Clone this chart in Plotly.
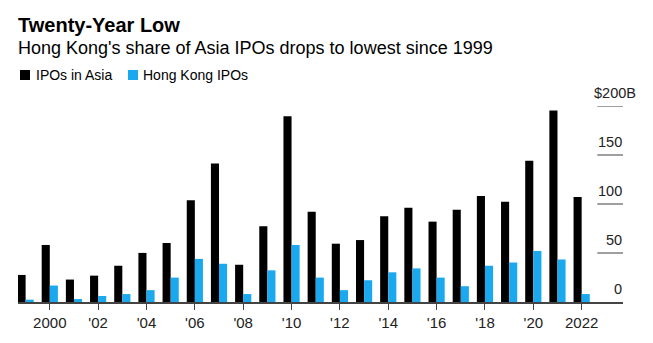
import plotly.graph_objects as go

years = list(range(1999, 2023))
asia = [27.6, 58.2, 22.9, 26.9, 37.0, 50.1, 60.2, 103.9, 141.2, 38.0, 77.3, 189.6,
        92.1, 59.5, 63.2, 87.4, 96.1, 82.0, 94.1, 108.2, 102.2, 144.2, 195.3, 107.2]
hk = [2.4, 16.8, 3.0, 6.1, 8.1, 12.1, 24.9, 44.0, 39.0, 8.1, 32.3, 58.2,
      24.9, 12.1, 22.2, 30.3, 34.3, 24.9, 16.1, 37.0, 40.3, 52.1, 43.4, 8.1]
xtick_vals = [2000, 2002, 2004, 2006, 2008, 2010, 2012, 2014, 2016, 2018, 2020, 2022]
xtick_text = ["2000", "'02", "'04", "'06", "'08", "'10", "'12", "'14", "'16", "'18", "'20", "2022"]
ytick_vals = [0, 50, 100, 150, 200]
ytick_text = ["0", "50", "100", "150", "200"]
series_names = ["IPOs in Asia", "Hong Kong IPOs"]

FONT = "Liberation Sans, Arial, sans-serif"
BLACK = "#000000"
BLUE = "#1aa9ef"

fig = go.Figure()
fig.add_trace(go.Bar(x=years, y=asia, name=series_names[0], marker_color=BLACK,
                     marker_line_width=0, showlegend=False))
fig.add_trace(go.Bar(x=years, y=hk, name=series_names[1], marker_color=BLUE,
                     marker_line_width=0, showlegend=False))

# short gridlines at right + y labels
for v, t in zip(ytick_vals, ytick_text):
    if v != 0:
        fig.add_shape(type="line", xref="x domain", yref="y", x0=0.9575, x1=1.0,
                      y0=v, y1=v, line=dict(color="#6b6b6b", width=1.3))
    label = t if v != 200 else "$200B"
    fig.add_annotation(xref="x domain", yref="y", x=1.0, y=v, text=label,
                       showarrow=False, xanchor="right", yanchor="bottom",
                       xshift=1 if v != 200 else 15, yshift=3,
                       font=dict(family=FONT, size=14.5, color="#222222"))

# title / subtitle
fig.add_annotation(xref="paper", yref="paper", x=0, y=1, xanchor="left", yanchor="top",
                   xshift=-2, yshift=94, text="<b>Twenty-Year Low</b>",
                   showarrow=False, font=dict(family=FONT, size=20, color="#000000"))
fig.add_annotation(xref="paper", yref="paper", x=0, y=1, xanchor="left", yanchor="top",
                   xshift=-2, yshift=70, text="Hong Kong's share of Asia IPOs drops to lowest since 1999",
                   showarrow=False, font=dict(family=FONT, size=18, color="#000000"))

# custom legend (pixel offsets from the plot area's top-left corner)
legend_items = [(series_names[0], BLACK, 2, 17), (series_names[1], BLUE, 110, 123.7)]
for name, col, sq_x, tx_x in legend_items:
    fig.add_shape(type="rect", xref="paper", yref="paper",
                  xsizemode="pixel", ysizemode="pixel", xanchor=0, yanchor=1,
                  x0=sq_x, x1=sq_x + 10, y0=26, y1=36,
                  fillcolor=col, line_width=0)
    fig.add_annotation(xref="paper", yref="paper", x=0, y=1, xanchor="left", yanchor="middle",
                       xshift=tx_x - 1, yshift=31, text=name, showarrow=False,
                       font=dict(family=FONT, size=14, color="#000000"))

fig.update_layout(
    width=653, height=343,
    margin=dict(l=18, r=30, t=106, b=39, pad=0),
    paper_bgcolor="white", plot_bgcolor="white",
    barmode="group", bargap=0.33, bargroupgap=0,
    showlegend=False,
    xaxis=dict(range=[1998.685, 2023.71], tickvals=xtick_vals, ticktext=xtick_text,
               showgrid=False, zeroline=False, showline=True, linecolor="#444444",
               linewidth=1.5, ticks="outside", ticklen=6, tickcolor="#444444", tickwidth=1,
               tickfont=dict(family=FONT, size=15, color="#222222")),
    yaxis=dict(range=[0, 200], showgrid=False, zeroline=False, showticklabels=False,
               showline=False, ticks=""),
)

fig.write_html("out.html")
